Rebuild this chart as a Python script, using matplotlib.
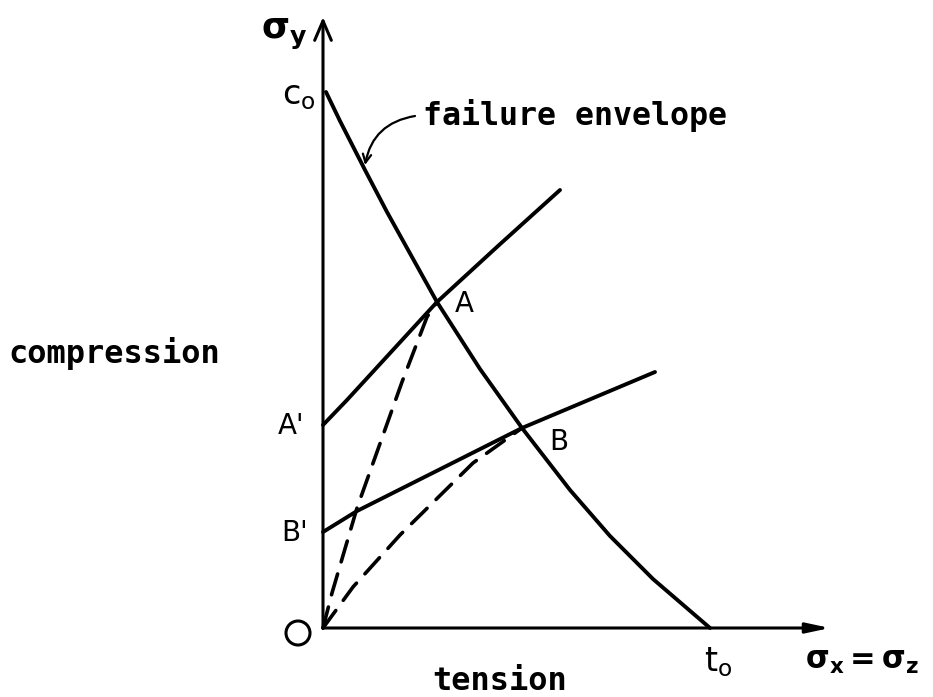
import matplotlib.pyplot as plt
from matplotlib.patches import Circle

plt.rcParams['mathtext.fontset'] = 'dejavusans'

# stress space, origin O at (0, 0); sigma_x = sigma_z along x, sigma_y along y
env_x = [0.3, 1.7, 4.2, 6.4, 11.4, 15.7, 19.9, 24.7, 28.7, 33.0, 38.7]
env_y = [53.6, 50.7, 45.8, 41.6, 32.6, 25.9, 20.0, 13.8, 9.2, 4.9, 0.0]

pathA_x = [0.0, 2.4, 11.4, 17.5, 23.7]
pathA_y = [20.3, 22.8, 32.6, 38.2, 43.8]

pathB_x = [0.0, 3.4, 19.9, 33.2]
pathB_y = [9.6, 11.7, 20.0, 25.6]

dashA_x = [0.0, 0.9, 3.4, 7.9, 10.4, 11.4]
dashA_y = [0.0, 3.5, 12.0, 24.6, 31.1, 32.6]

dashB_x = [0.0, 3.0, 7.7, 15.0, 19.9]
dashB_y = [0.0, 4.1, 9.3, 16.5, 20.0]

c0 = 53.6
t0 = 38.7

mono = 'DejaVu Sans Mono'

fig = plt.figure(figsize=(9.33, 6.97), dpi=100)
ax = fig.add_axes([0, 0, 1, 1])
ax.set_xlim(-32.3, 61.0)
ax.set_ylim(-6.9, 62.8)
ax.axis('off')

# axes with arrow heads
ax.annotate('', xy=(0, 61.1), xytext=(0, 0),
            arrowprops=dict(arrowstyle='->,head_length=1.4,head_width=0.6',
                            lw=2.2, color='black', shrinkA=0, shrinkB=0))
ax.annotate('', xy=(50.7, 0), xytext=(0, 0),
            arrowprops=dict(arrowstyle='-|>,head_length=1.4,head_width=0.3',
                            lw=2.2, color='black', shrinkA=0, shrinkB=0))

# failure envelope and loading paths
ax.plot(env_x, env_y, color='black', lw=2.8, solid_capstyle='round', solid_joinstyle='round')
ax.plot(pathA_x, pathA_y, color='black', lw=2.8, solid_capstyle='round', solid_joinstyle='round')
ax.plot(pathB_x, pathB_y, color='black', lw=2.8, solid_capstyle='round', solid_joinstyle='round')
ax.plot(dashA_x, dashA_y, color='black', lw=2.6, dashes=(6, 3.5), dash_capstyle='round')
ax.plot(dashB_x, dashB_y, color='black', lw=2.6, dashes=(6, 3.5), dash_capstyle='round')

# labels
ax.text(-3.9, 59.4, r'$\mathbf{\sigma_y}$', fontsize=26, ha='center', va='center')
ax.text(-2.4, c0 - 0.4, r'$\mathregular{c_o}$', fontsize=24, ha='center', va='center')
ax.text(39.5, -3.4, r'$\mathregular{t_o}$', fontsize=24, ha='center', va='center')
ax.text(53.9, -3.3, r'$\mathbf{\sigma_x = \sigma_z}$', fontsize=22, ha='center', va='center')

ax.text(10.0, 51.2, 'failure envelope', family=mono, weight='bold',
        fontsize=22.8, ha='left', va='center')
ax.annotate('', xy=(4.2, 46.3), xytext=(9.2, 51.2),
            arrowprops=dict(arrowstyle='->,head_length=0.6,head_width=0.3',
                            lw=1.6, color='black', connectionstyle='arc3,rad=0.35',
                            shrinkA=0, shrinkB=0))
ax.text(-31.5, 27.4, 'compression', family=mono, weight='bold',
        fontsize=23, ha='left', va='center')
ax.text(17.7, -5.3, 'tension', family=mono, weight='bold',
        fontsize=23, ha='center', va='center')

ax.text(14.1, 32.4, 'A', fontsize=20, ha='center', va='center')
ax.text(23.6, 18.6, 'B', fontsize=20, ha='center', va='center')
ax.text(-3.2, 20.2, "A'", fontsize=20, ha='center', va='center')
ax.text(-2.8, 9.5, "B'", fontsize=20, ha='center', va='center')
ax.add_patch(Circle((-2.5, -0.5), 1.2, fill=False, lw=2.2, color='black'))

fig.savefig('out.png', dpi=100, facecolor='white')
